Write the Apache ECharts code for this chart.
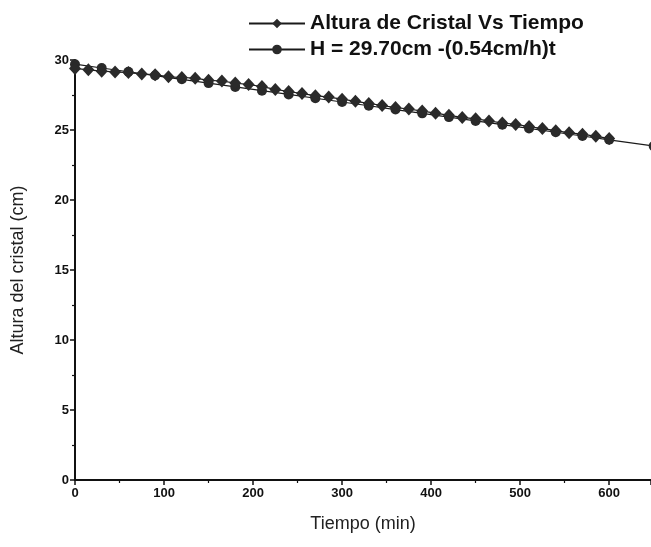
<!DOCTYPE html>
<html>
<head>
<meta charset="utf-8">
<script src="https://cdn.jsdelivr.net/npm/echarts@6/dist/echarts.min.js"></script>
<style>
  html, body { margin: 0; padding: 0; background: #fff; }
  #chart { width: 651px; height: 547px; }
</style>
</head>
<body>
<div id="chart"></div>
<script>
// Measured crystal height over time (min, cm)
const tiempo = [0, 15, 30, 45, 60, 75, 90, 105, 120, 135, 150, 165, 180, 195, 210, 225, 240, 255, 270, 285,
  300, 315, 330, 345, 360, 375, 390, 405, 420, 435, 450, 465, 480, 495, 510, 525, 540, 555, 570, 585, 600];
const altura = [29.40, 29.30, 29.20, 29.15, 29.10, 29.00, 28.95, 28.80, 28.75, 28.70, 28.55, 28.50, 28.35, 28.25,
  28.10, 27.90, 27.75, 27.60, 27.45, 27.35, 27.20, 27.05, 26.90, 26.75, 26.60, 26.50, 26.35, 26.20, 26.05,
  25.90, 25.80, 25.65, 25.50, 25.40, 25.25, 25.10, 24.95, 24.80, 24.70, 24.55, 24.40];

// Linear fit H = 29.70 cm - (0.54 cm/h) t
const tiempoAjuste = [0, 30, 60, 90, 120, 150, 180, 210, 240, 270, 300, 330, 360, 390, 420, 450, 480, 510, 540, 570, 600, 650];
const alturaAjuste = [29.70, 29.43, 29.16, 28.89, 28.62, 28.35, 28.08, 27.81, 27.54, 27.27, 27.00, 26.73, 26.46,
  26.19, 25.92, 25.65, 25.38, 25.11, 24.84, 24.57, 24.30, 23.85];

const serieDatos = 'Altura de Cristal Vs Tiempo';
const serieAjuste = 'H = 29.70cm -(0.54cm/h)t';

const font = 'Liberation Sans, Arial, sans-serif';
const chart = echarts.init(document.getElementById('chart'), null, { renderer: 'canvas' });

const axisCommon = {
  axisLine: { show: true, lineStyle: { color: '#111', width: 2 } },
  axisTick: { show: true, inside: false, length: 5, lineStyle: { color: '#111', width: 1.5 } },
  minorTick: { show: true, splitNumber: 2, length: 3, lineStyle: { color: '#111', width: 1.2 } },
  splitLine: { show: false },
  axisLabel: { color: '#111', fontFamily: font, fontWeight: 'bold', fontSize: 13 },
  nameTextStyle: { color: '#222', fontFamily: font, fontSize: 18 }
};

chart.setOption({
  backgroundColor: '#fff',
  animation: false,
  grid: { left: 75, top: 60, right: 0, bottom: 67, containLabel: false },
  legend: {
    orient: 'vertical',
    left: 243,
    top: 8,
    itemWidth: 56,
    itemHeight: 12,
    itemGap: 5,
    textStyle: { color: '#111', fontFamily: font, fontWeight: 'bold', fontSize: 21 },
    data: [serieDatos, serieAjuste]
  },
  xAxis: Object.assign({}, axisCommon, {
    type: 'value',
    min: 0,
    max: 647,
    interval: 100,
    name: 'Tiempo (min)',
    nameLocation: 'middle',
    nameGap: 35,
    axisLabel: Object.assign({}, axisCommon.axisLabel, { margin: 7, showMaxLabel: false })
  }),
  yAxis: Object.assign({}, axisCommon, {
    type: 'value',
    min: 0,
    max: 30,
    interval: 5,
    name: 'Altura del cristal (cm)',
    nameLocation: 'middle',
    nameGap: 48,
    axisLabel: Object.assign({}, axisCommon.axisLabel, { margin: 6 })
  }),
  series: [
    {
      name: serieAjuste,
      type: 'line',
      clip: false,
      data: tiempoAjuste.map((t, i) => [t, alturaAjuste[i]]),
      symbol: 'circle',
      symbolSize: 10,
      itemStyle: { color: '#2a2a2a' },
      lineStyle: { color: '#1a1a1a', width: 1.2 },
      z: 2
    },
    {
      name: serieDatos,
      type: 'line',
      clip: false,
      data: tiempo.map((t, i) => [t, altura[i]]),
      symbol: 'diamond',
      symbolSize: [12, 13],
      itemStyle: { color: '#2a2a2a' },
      lineStyle: { color: '#1a1a1a', width: 1.2 },
      z: 3
    }
  ]
});
</script>
</body>
</html>
